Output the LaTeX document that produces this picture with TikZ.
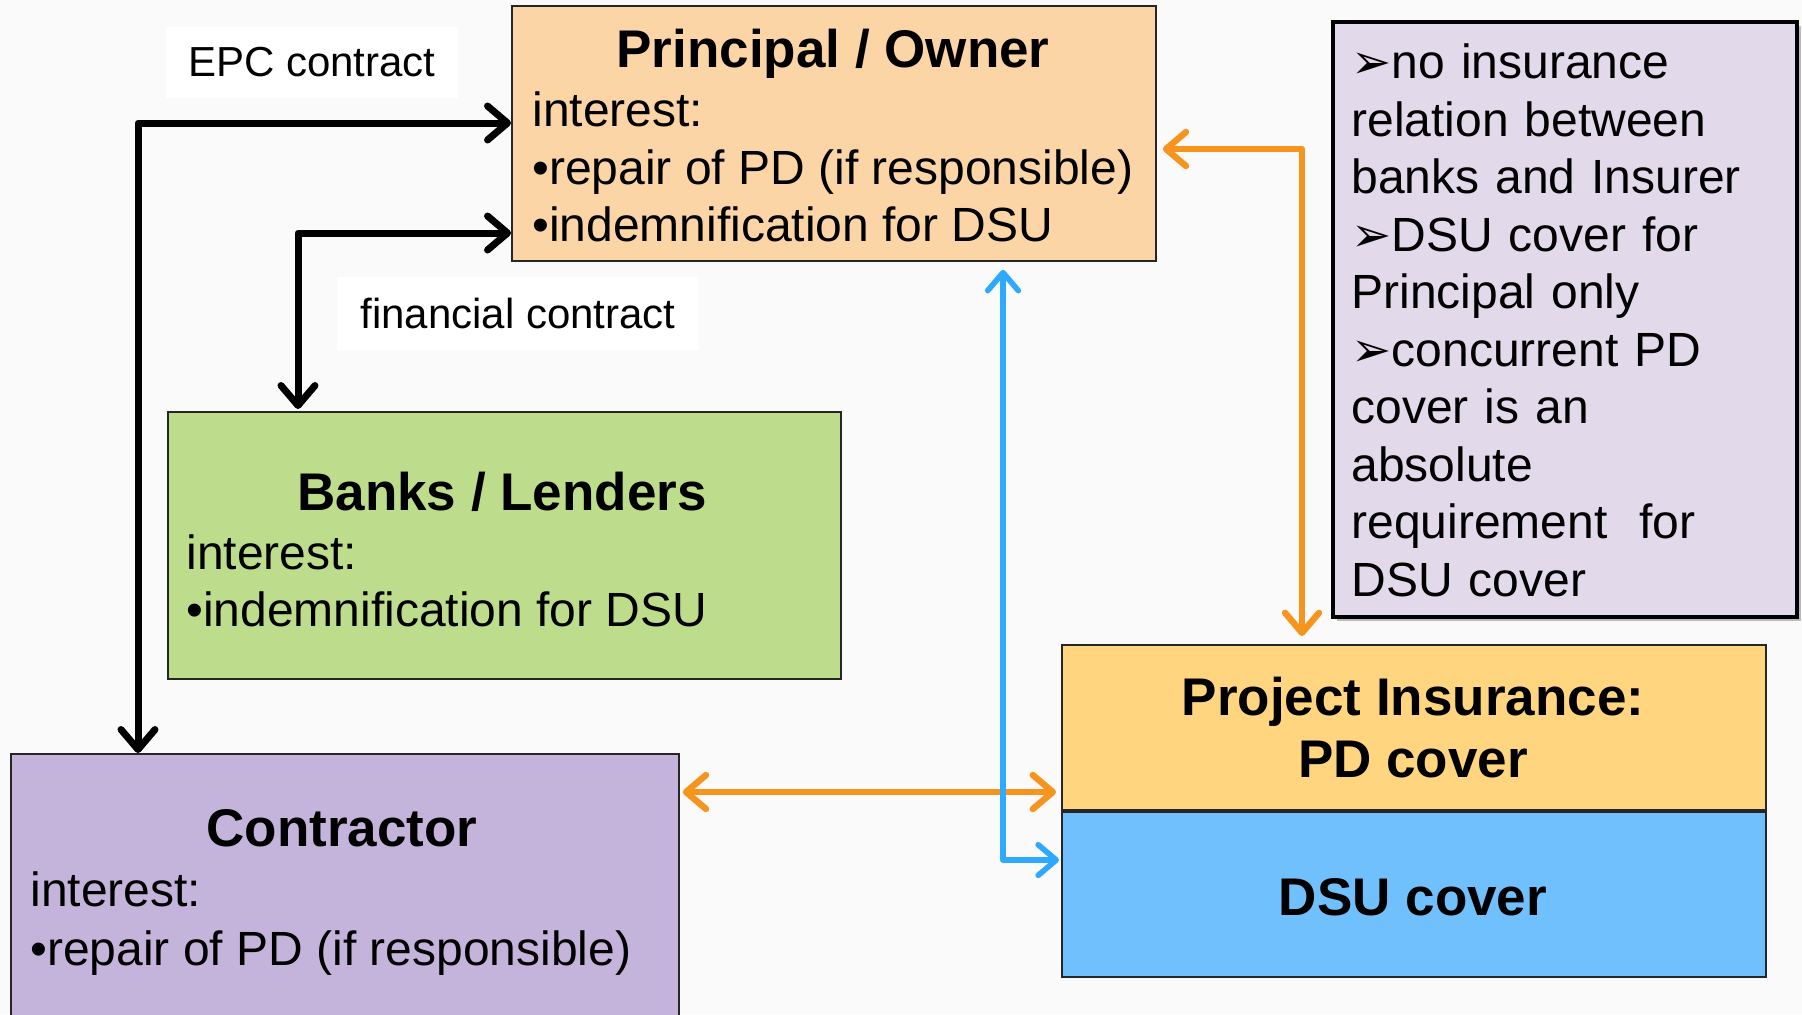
\documentclass[tikz,border=0pt]{standalone}
\usepackage{fontspec}
\setmainfont{Liberation Sans}
\newfontfamily\dingfont{DejaVu Sans}
\usetikzlibrary{arrows.meta,shadows,calc}

\definecolor{pagebg}{HTML}{FAFAFA}
\definecolor{ownerfill}{HTML}{FCD5A6}
\definecolor{bankfill}{HTML}{BEDD8C}
\definecolor{contrfill}{HTML}{C4B3DA}
\definecolor{pdfill}{HTML}{FFD580}
\definecolor{dsufill}{HTML}{70C0FE}
\definecolor{notefill}{HTML}{E2D9EB}
\definecolor{linkorange}{HTML}{F7941E}
\definecolor{linkblue}{HTML}{2EA9FF}

\newcommand\notebullet{{\dingfont\fontsize{24}{24}\selectfont ➢}}

\tikzset{
  partybox/.style={draw=black!85, line width=0.9pt, anchor=north west, inner sep=0pt},
  titletext/.style={anchor=base, inner sep=0pt, font=\bfseries\fontsize{26.5}{31}\selectfont},
  bodytext/.style={anchor=base west, inner sep=0pt, font=\fontsize{24}{28.75}\selectfont},
  contractlabel/.style={fill=white, inner sep=0pt, font=\fontsize{21}{25}\selectfont},
  barbs/.style={arrows={Straight Barb[length=#1,width=1.7*#1,line cap=round,line join=round]-Straight Barb[length=#1,width=1.7*#1,line cap=round,line join=round]}},
  blacklink/.style={line width=3.5pt, black, line cap=round, line join=round, barbs=10pt},
  orangelink/.style={line width=3.2pt, linkorange, line cap=round, line join=round, barbs=10pt},
  bluelink/.style={line width=2.8pt, linkblue, line cap=round, line join=round, barbs=9pt}
}

\begin{document}
\begin{tikzpicture}[x=0.5pt,y=-0.5pt]
  % page
  \fill[pagebg] (0,0) rectangle (1802,1014);
  \useasboundingbox (0,0) rectangle (1802,1014);
  \clip (0,0) rectangle (1802,1014);

  % parties
  \node[partybox, fill=ownerfill, minimum width=322pt, minimum height=127.5pt] (owner) at (511,5) {};
  \node[partybox, fill=bankfill, minimum width=336.5pt, minimum height=133.5pt] (banks) at (167,411) {};
  \node[partybox, fill=contrfill, minimum width=334pt, minimum height=145pt] (contr) at (10,753) {};
  \node[partybox, fill=pdfill, minimum width=352pt, minimum height=82.5pt] (pd) at (1061,644) {};
  \node[partybox, fill=dsufill, minimum width=352pt, minimum height=82.5pt] (dsu) at (1061,811) {};

  % remarks box
  \node[partybox, draw=black, line width=2pt, fill=notefill, minimum width=232pt, minimum height=297.5pt,
        drop shadow={shadow xshift=2pt, shadow yshift=-2pt, fill=black, opacity=0.25}] (note) at (1331,20) {};

  % Principal / Owner
  \node[titletext] (ownerTitle) at (833,67) {Principal / Owner};
  \node[bodytext] (ownerL1) at (532,126) {interest:};
  \node[bodytext] (ownerL2) at (532,184) {•repair of PD (if responsible)};
  \node[bodytext] (ownerL3) at (532,241) {•indemnification for DSU};

  % Banks / Lenders
  \node[titletext] (banksTitle) at (502,510) {Banks / Lenders};
  \node[bodytext] (banksL1) at (186,569) {interest:};
  \node[bodytext] (banksL2) at (186,626) {•indemnification for DSU};

  % Contractor
  \node[titletext] (contrTitle) at (342,846) {Contractor};
  \node[bodytext] (contrL1) at (30,906) {interest:};
  \node[bodytext] (contrL2) at (30,965) {•repair of PD (if responsible)};

  % insurance covers
  \node[titletext] (pdTitleA) at (1413,715) {Project Insurance:};
  \node[titletext] (pdTitleB) at (1413,777) {PD cover};
  \node[titletext] (dsuTitle) at (1413,915) {DSU cover};

  % remarks
  \node[bodytext, anchor=north west, align=left, text width=225pt] (noteText) at (1351,38)
    {\strut\notebullet no insurance\\
     relation between\\
     banks and Insurer\\
     \notebullet DSU cover for\\
     Principal only\\
     \notebullet concurrent PD\\
     cover is an\\
     absolute\\
     requirement\ \ for\\
     DSU cover};

  % contract labels
  \node[contractlabel, minimum width=146pt, minimum height=35.5pt] (epcLabel) at (312,62.5) {EPC contract};
  \node[contractlabel, minimum width=181pt, minimum height=36.5pt] (finLabel) at (518,313.5) {financial contract};

  % contracts
  \draw[blacklink] ($(contr.north west)+(128,0)$) |- ($(owner.north west)+(0,118)$);
  \draw[blacklink] ($(banks.north west)+(131,-2)$) |- ($(owner.north west)+(0,228)$);

  % insurance relations
  \draw[orangelink] ($(owner.north east)+(6,144)$) -| ($(pd.north west)+(241,-8)$);
  \draw[orangelink] ($(contr.north east)+(3,39)$) -- ($(pd.north west)+(-5,148)$);
  \draw[bluelink] ($(owner.south west)+(492,8)$) |- ($(dsu.north west)+(-2,49)$);
\end{tikzpicture}
\end{document}
